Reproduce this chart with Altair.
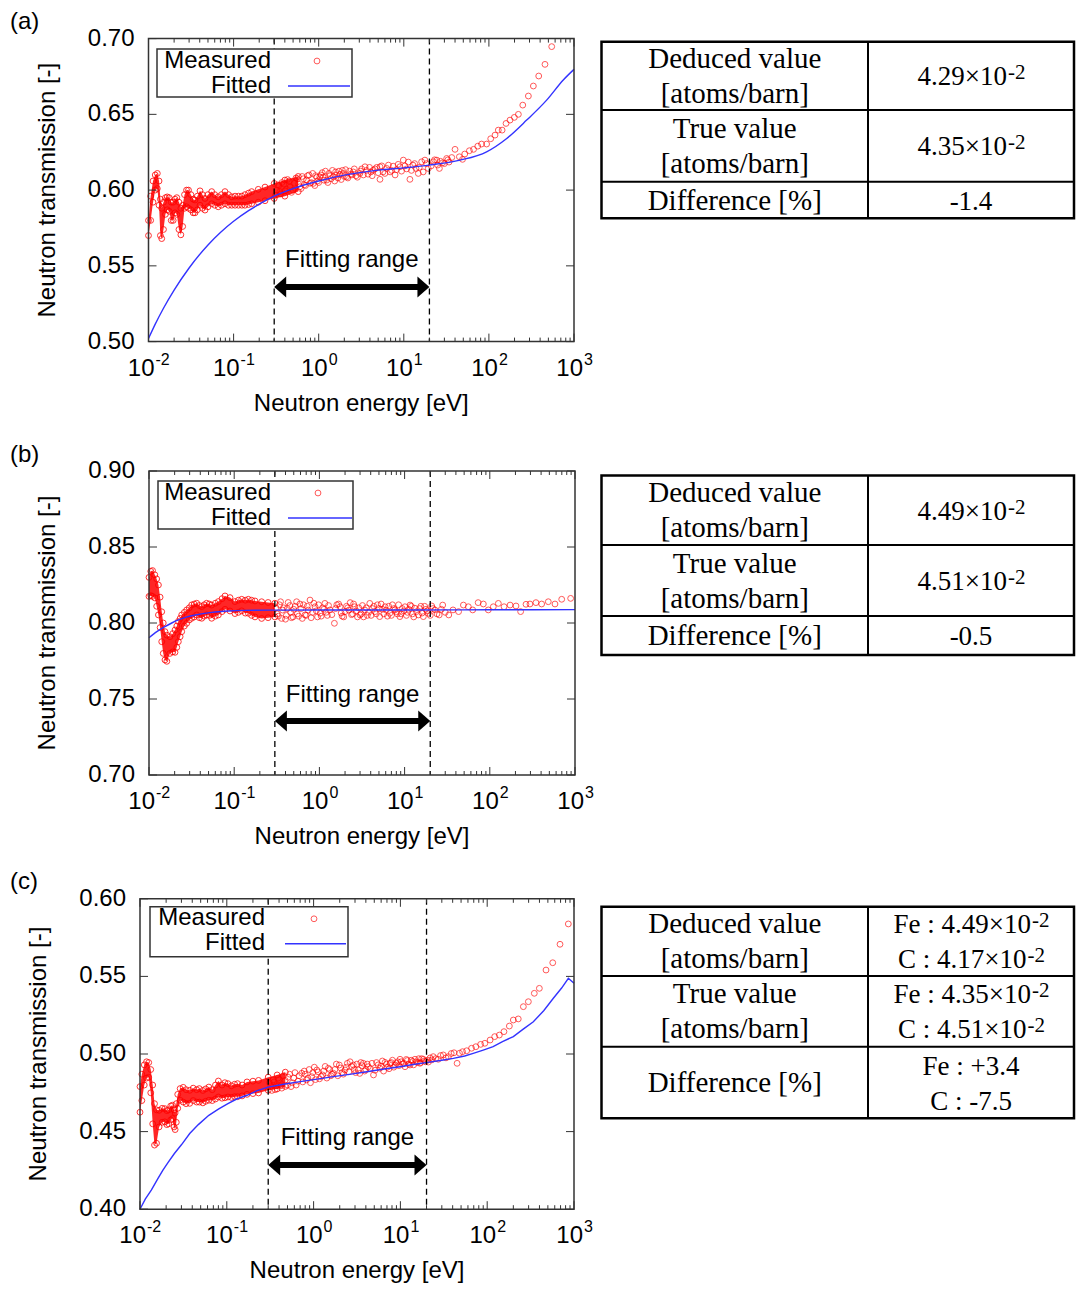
import altair as alt
import pandas as pd

# ====================== data ======================
# ---- panel (a) ----
a_band_E = [0.0100, 0.0106, 0.0113, 0.0120, 0.0127, 0.0133, 0.0138, 0.0143, 0.0150, 0.0158,
            0.0166, 0.0175, 0.0185, 0.0195, 0.0205, 0.0215, 0.0228, 0.0240, 0.0252, 0.0265,
            0.0280, 0.0295, 0.0315, 0.0335, 0.0352, 0.0375, 0.0403, 0.0430, 0.0461, 0.0500,
            0.0553, 0.0600, 0.0660, 0.0720, 0.0792, 0.0870, 0.0950, 0.104, 0.114, 0.125,
            0.136, 0.150, 0.163, 0.195, 0.234, 0.300, 0.400, 0.575]
a_band_hi = [0.580, 0.596, 0.606, 0.610, 0.611, 0.606, 0.594, 0.588, 0.592, 0.595,
             0.5955, 0.595, 0.592, 0.592, 0.594, 0.595, 0.592, 0.588, 0.590, 0.597,
             0.600, 0.600, 0.597, 0.594, 0.5935, 0.596, 0.5995, 0.597, 0.5945, 0.597,
             0.599, 0.597, 0.5956, 0.597, 0.599, 0.597, 0.5956, 0.596, 0.596, 0.596,
             0.597, 0.598, 0.599, 0.6005, 0.602, 0.6044, 0.6066, 0.609]
a_band_lo = [0.570, 0.580, 0.592, 0.600, 0.601, 0.590, 0.570, 0.568, 0.574, 0.584,
             0.587, 0.586, 0.580, 0.580, 0.585, 0.584, 0.574, 0.5705, 0.576, 0.588,
             0.589, 0.588, 0.587, 0.585, 0.585, 0.587, 0.590, 0.588, 0.5868, 0.589,
             0.591, 0.590, 0.589, 0.590, 0.591, 0.590, 0.590, 0.590, 0.590, 0.590,
             0.590, 0.5905, 0.591, 0.592, 0.593, 0.5945, 0.596, 0.599]
a_pts_E = [0.32, 0.34, 0.36, 0.39, 0.42, 0.45, 0.48, 0.52, 0.56, 0.60,
           0.64, 0.68, 0.72, 0.77, 0.82, 0.865, 0.92, 0.97, 1.03, 1.10,
           1.16, 1.24, 1.32, 1.40, 1.49, 1.58, 1.68, 1.78, 1.90, 2.00,
           2.13, 2.30, 2.45, 2.55, 2.75, 3.05, 3.20, 3.50, 3.80, 4.10,
           4.38, 4.80, 5.25, 5.25, 5.70, 6.30, 6.90, 7.50, 8.20, 9.00,
           9.87, 10.8, 11.8, 12.8, 13.9, 14.8, 16.2, 17.7, 19.4, 22.3,
           24.4, 26.2, 28.5, 31.9, 34.0, 36.6, 40.0, 45.0, 49.0, 52.0,
           59, 66, 74, 82, 94, 105, 118, 129, 143, 159,
           177, 199, 222, 250, 291, 333, 385, 456, 547]
a_pts_T = [0.6000, 0.6030, 0.5975, 0.6040, 0.6005, 0.6060, 0.5985, 0.6045, 0.6075, 0.6022,
           0.6090, 0.6035, 0.6066, 0.6100, 0.6050, 0.6044, 0.6095, 0.6060, 0.6088, 0.6115,
           0.6065, 0.6066, 0.6110, 0.6075, 0.6088, 0.6120, 0.6080, 0.6104, 0.6130, 0.6090,
           0.6088, 0.6125, 0.6100, 0.6120, 0.6095, 0.6110, 0.6140, 0.6154, 0.6105, 0.6120,
           0.6132, 0.6150, 0.6154, 0.6071, 0.6120, 0.6143, 0.6120, 0.6158, 0.6135, 0.6154,
           0.6198, 0.6140, 0.6071, 0.6165, 0.6143, 0.6110, 0.6187, 0.6198, 0.6143, 0.6187,
           0.6198, 0.6143, 0.6180, 0.6209, 0.6185, 0.6215, 0.6269, 0.6220, 0.6203, 0.6238,
           0.6260, 0.6269, 0.6290, 0.6304, 0.6304, 0.6339, 0.6363, 0.6396, 0.6396, 0.6440,
           0.6462, 0.6480, 0.6500, 0.6561, 0.6621, 0.6687, 0.6753, 0.6830, 0.6947]
a_pts2_E = [0.31, 0.33, 0.35, 0.37, 0.40, 0.43, 0.46, 0.50, 0.54, 0.58,
            0.62, 0.66, 0.70, 0.74, 0.79, 0.85, 0.90, 0.95, 1.00, 1.06,
            1.13, 1.20, 1.28, 1.36, 1.45, 1.54, 1.63, 1.73, 1.84, 1.95,
            2.07, 2.20, 2.38, 2.62, 2.85, 3.10, 3.35, 3.65, 3.95, 4.25,
            4.60, 5.00, 5.50, 6.00, 6.60, 7.20, 7.90, 8.60, 9.40, 10.3,
            11.3, 12.3, 13.4, 15.2, 16.9, 18.5, 21.0, 23.0, 25.0, 27.0,
            30.0, 33.0]
a_pts2_T = [0.5965, 0.6035, 0.5990, 0.6050, 0.5995, 0.6070, 0.6020, 0.6000, 0.6080, 0.6040,
            0.6010, 0.6075, 0.6030, 0.6095, 0.6045, 0.6110, 0.6030, 0.6085, 0.6050, 0.6100,
            0.6085, 0.6125, 0.6050, 0.6095, 0.6130, 0.6060, 0.6100, 0.6125, 0.6070, 0.6110,
            0.6135, 0.6080, 0.6105, 0.6140, 0.6085, 0.6125, 0.6100, 0.6130, 0.6150, 0.6095,
            0.6140, 0.6115, 0.6160, 0.6110, 0.6165, 0.6130, 0.6100, 0.6170, 0.6125, 0.6160,
            0.6185, 0.6130, 0.6175, 0.6150, 0.6120, 0.6175, 0.6160, 0.6200, 0.6165, 0.6190,
            0.6175, 0.6200]
a_fit_E = [0.01, 0.012, 0.015, 0.02, 0.03, 0.05, 0.07, 0.1, 0.15, 0.2, 0.3, 0.5,
           1, 2, 5, 10, 20, 46, 94, 162, 278, 477, 748, 1000]
a_fit_T = [0.502, 0.5115, 0.522, 0.534, 0.5486, 0.5638, 0.572, 0.5794, 0.5864, 0.5907, 0.596, 0.601,
           0.606, 0.6099, 0.6132, 0.6147, 0.6165, 0.6198, 0.6253, 0.6341, 0.6462, 0.6594, 0.6727, 0.6797]

# ---- panel (b) ----
b_band_E = [0.0100, 0.0105, 0.0110, 0.0117, 0.0123, 0.0129, 0.0135, 0.0141, 0.0147, 0.0154,
            0.0162, 0.0176, 0.0190, 0.0202, 0.0212, 0.0221, 0.0232, 0.0242, 0.0260, 0.0277,
            0.0297, 0.0317, 0.0340, 0.0363, 0.0390, 0.0416, 0.0445, 0.0475, 0.0510, 0.0544,
            0.0600, 0.0652, 0.0720, 0.0780, 0.0893, 0.102, 0.112, 0.1224, 0.135, 0.1466,
            0.160, 0.1754, 0.21, 0.25, 0.30]
b_band_hi = [0.830, 0.834, 0.8345, 0.8317, 0.829, 0.825, 0.817, 0.8074, 0.800, 0.7943,
             0.792, 0.791, 0.793, 0.7954, 0.798, 0.801, 0.803, 0.8053, 0.807, 0.8086,
             0.810, 0.8119, 0.8125, 0.813, 0.8115, 0.8108, 0.8120, 0.8130, 0.8125, 0.8118,
             0.8130, 0.8141, 0.8160, 0.8178, 0.8167, 0.8141, 0.8150, 0.8156, 0.8150, 0.8156,
             0.8150, 0.8145, 0.8140, 0.8135, 0.8130]
b_band_lo = [0.8175, 0.8180, 0.8175, 0.8165, 0.811, 0.8053, 0.797, 0.7877, 0.780, 0.7757,
             0.7748, 0.780, 0.781, 0.7807, 0.784, 0.7877, 0.791, 0.7943, 0.798, 0.7998,
             0.802, 0.8031, 0.804, 0.8053, 0.8035, 0.8031, 0.8045, 0.8053, 0.8050, 0.8031,
             0.8045, 0.8053, 0.8075, 0.8090, 0.8079, 0.8062, 0.8070, 0.8080, 0.8065, 0.8064,
             0.8050, 0.8040, 0.8030, 0.8035, 0.8040]
b_pts_E = [0.32, 0.34, 0.36, 0.38, 0.41, 0.43, 0.46, 0.49, 0.52, 0.55,
           0.59, 0.63, 0.678, 0.72, 0.776, 0.83, 0.89, 0.95, 1.02, 1.09,
           1.16, 1.24, 1.33, 1.50, 1.60, 1.75, 1.85, 2.00, 2.15, 2.30,
           2.45, 2.60, 2.80, 3.00, 3.20, 3.40, 3.65, 3.90, 4.20, 4.50,
           4.80, 5.10, 5.50, 5.90, 6.30, 6.70, 7.20, 7.70, 8.20, 8.80,
           9.40, 10.1, 10.8, 11.6, 12.4, 13.2, 14.5, 15.5, 16.6, 17.8,
           19.0, 20.8, 22.7, 25.5, 28.0, 33.0, 37.0, 43.0, 49.0, 56.0,
           63, 73, 84, 96, 110, 126, 147, 173, 203, 230,
           266, 296, 348, 406, 486, 582, 698, 889]
b_pts_T = [0.8060, 0.8120, 0.8030, 0.8100, 0.8050, 0.8135, 0.8070, 0.8040, 0.8110, 0.8060,
           0.8125, 0.8030, 0.8053, 0.8110, 0.8151, 0.8070, 0.8107, 0.8040, 0.8064, 0.8100,
           0.8129, 0.8050, 0.8086, 0.7998, 0.8120, 0.8107, 0.8045, 0.8075, 0.8100, 0.8134,
           0.8060, 0.8107, 0.8040, 0.8053, 0.8115, 0.8086, 0.8050, 0.8129, 0.8095, 0.8075,
           0.8120, 0.8042, 0.8090, 0.8107, 0.8045, 0.8064, 0.8120, 0.8086, 0.8060, 0.8042,
           0.8095, 0.8107, 0.8070, 0.8118, 0.8060, 0.8097, 0.8053, 0.8110, 0.8042, 0.8090,
           0.8064, 0.8112, 0.8086, 0.8053, 0.8118, 0.8053, 0.8086, 0.8075, 0.8118, 0.8107,
           0.8086, 0.8134, 0.8125, 0.8086, 0.8107, 0.8129, 0.8107, 0.8118, 0.8112, 0.8075,
           0.8123, 0.8125, 0.8134, 0.8125, 0.8140, 0.8125, 0.8156, 0.8162]
b_pts2_E = [0.31, 0.33, 0.35, 0.37, 0.40, 0.42, 0.45, 0.47, 0.50, 0.54,
            0.57, 0.61, 0.65, 0.70, 0.74, 0.80, 0.86, 0.92, 0.98, 1.05,
            1.13, 1.20, 1.28, 1.40, 1.55, 1.68, 1.80, 1.93, 2.08, 2.22,
            2.38, 2.52, 2.70, 2.90, 3.10, 3.30, 3.55, 3.78, 4.05, 4.35,
            4.65, 5.00, 5.30, 5.70, 6.10, 6.50, 7.00, 7.50, 8.00, 8.50,
            9.10, 9.80, 10.5, 11.2, 12.0, 12.8, 13.8, 15.0, 16.0, 17.2,
            18.4, 20.0, 21.5, 24.0, 27.0, 30.0]
b_pts2_T = [0.8100, 0.8045, 0.8140, 0.8085, 0.8025, 0.8095, 0.8115, 0.8035, 0.8090, 0.8140,
            0.8045, 0.8095, 0.8120, 0.8050, 0.8085, 0.8035, 0.8130, 0.8080, 0.8120, 0.8045,
            0.8090, 0.8070, 0.8115, 0.8055, 0.8095, 0.8125, 0.8065, 0.8040, 0.8110, 0.8085,
            0.8055, 0.8125, 0.8080, 0.8100, 0.8060, 0.8040, 0.8100, 0.8070, 0.8050, 0.8110,
            0.8060, 0.8095, 0.8125, 0.8060, 0.8085, 0.8110, 0.8050, 0.8095, 0.8075, 0.8120,
            0.8060, 0.8080, 0.8050, 0.8090, 0.8110, 0.8040, 0.8075, 0.8095, 0.8065, 0.8110,
            0.8080, 0.8050, 0.8095, 0.8060, 0.8090, 0.8070]
b_fit_E = [0.01, 0.0125, 0.0154, 0.0185, 0.0221, 0.028, 0.035, 0.0544, 0.085, 0.134, 0.3, 1, 10, 100, 1000]
b_fit_T = [0.7903, 0.7945, 0.7976, 0.800, 0.802, 0.804, 0.8053, 0.807, 0.8079, 0.8083,
           0.8085, 0.8086, 0.8086, 0.8087, 0.8088]

# ---- panel (c) ----
c_band_E = [0.0100, 0.0105, 0.0112, 0.0119, 0.0126, 0.0133, 0.0140, 0.0147, 0.0155, 0.0166,
            0.0180, 0.0193, 0.0204, 0.0214, 0.0226, 0.0237, 0.0247, 0.0254, 0.0262, 0.0272,
            0.0290, 0.0315, 0.0340, 0.0374, 0.0410, 0.0450, 0.0482, 0.0530, 0.0570, 0.0621,
            0.0680, 0.0740, 0.0800, 0.0880, 0.0950, 0.103, 0.113, 0.123, 0.133, 0.150,
            0.171, 0.200, 0.232, 0.300, 0.380, 0.472]
c_band_hi = [0.479, 0.487, 0.4930, 0.4950, 0.4945, 0.4900, 0.480, 0.468, 0.464, 0.4637,
             0.4650, 0.4648, 0.4635, 0.4640, 0.4665, 0.4670, 0.4640, 0.4620, 0.4680, 0.4740,
             0.4777, 0.4785, 0.4770, 0.4766, 0.4780, 0.4770, 0.4777, 0.4765, 0.4775, 0.4787,
             0.4770, 0.4800, 0.4826, 0.4800, 0.4815, 0.4809, 0.4795, 0.4805, 0.4809, 0.4800,
             0.4820, 0.4825, 0.4830, 0.4851, 0.4865, 0.4883]
c_band_lo = [0.4625, 0.470, 0.480, 0.4845, 0.4850, 0.475, 0.455, 0.4413, 0.4425, 0.453,
             0.4560, 0.4563, 0.4545, 0.4550, 0.4575, 0.4584, 0.4530, 0.4513, 0.4560, 0.4650,
             0.4702, 0.4690, 0.4680, 0.4682, 0.4700, 0.4690, 0.4690, 0.4685, 0.4695, 0.4702,
             0.4700, 0.4710, 0.4723, 0.4715, 0.4718, 0.4723, 0.4720, 0.4725, 0.4725, 0.4730,
             0.4740, 0.4745, 0.4749, 0.4766, 0.4775, 0.4791]
c_pts_E = [0.32, 0.34, 0.36, 0.39, 0.42, 0.45, 0.50, 0.53, 0.57, 0.61,
           0.66, 0.73, 0.78, 0.83, 0.89, 0.95, 1.02, 1.09, 1.17, 1.27,
           1.36, 1.48, 1.58, 1.69, 1.83, 1.98, 2.13, 2.30, 2.45, 2.63,
           2.87, 3.05, 3.27, 3.50, 3.74, 4.00, 4.27, 4.90, 5.30, 5.80,
           6.20, 6.65, 7.10, 7.60, 8.10, 8.70, 9.30, 9.90, 10.6, 11.3,
           12.0, 12.9, 13.8, 14.7, 15.7, 16.8, 17.6, 18.4, 19.5, 20.6,
           22.0, 23.9, 25.5, 27.3, 29.0, 31.2, 33.5, 35.7, 38.5, 41.5,
           45, 48, 52, 58, 66, 74, 84, 94, 108, 122,
           138, 156, 180, 200, 228, 261, 298, 349, 399, 476,
           569, 690, 860]
c_pts_T = [0.4790, 0.4832, 0.4770, 0.4845, 0.4795, 0.4860, 0.4800, 0.4870, 0.4815, 0.4880,
           0.4825, 0.4876, 0.4890, 0.4833, 0.4900, 0.4854, 0.4915, 0.4897, 0.4840, 0.4865,
           0.4920, 0.4908, 0.4860, 0.4876, 0.4935, 0.4929, 0.4880, 0.4897, 0.4940, 0.4950,
           0.4929, 0.4880, 0.4897, 0.4945, 0.4940, 0.4900, 0.4918, 0.4865, 0.4945, 0.4908,
           0.4955, 0.4946, 0.4915, 0.4940, 0.4960, 0.4929, 0.4950, 0.4966, 0.4935, 0.4918,
           0.4958, 0.4929, 0.4952, 0.4966, 0.4945, 0.4940, 0.4970, 0.4966, 0.4950, 0.4961,
           0.4975, 0.4983, 0.4970, 0.4966, 0.4990, 0.4994, 0.4975, 0.4983, 0.5003, 0.5008,
           0.4940, 0.5005, 0.5015, 0.5021, 0.5037, 0.5047, 0.5062, 0.5069, 0.5090, 0.5112,
           0.5122, 0.5144, 0.5180, 0.5219, 0.5226, 0.5305, 0.5337, 0.5391, 0.5423, 0.5541,
           0.5588, 0.5707, 0.5838]
c_pts2_E = [0.31, 0.33, 0.35, 0.37, 0.40, 0.43, 0.47, 0.51, 0.55, 0.59,
            0.63, 0.68, 0.75, 0.80, 0.86, 0.92, 0.98, 1.05, 1.13, 1.22,
            1.31, 1.42, 1.53, 1.63, 1.76, 1.90, 2.05, 2.20, 2.38, 2.55,
            2.75, 2.95, 3.15, 3.40, 3.62, 3.87, 4.15, 4.50, 4.70, 5.10,
            5.55, 6.00, 6.40, 6.90, 7.40, 7.85, 8.40, 9.00, 9.60, 10.2,
            11.0, 11.7, 12.5, 13.3, 14.2, 15.2, 16.3, 17.1, 18.9, 21.0,
            23.0]
c_pts2_T = [0.4815, 0.4765, 0.4820, 0.4795, 0.4835, 0.4780, 0.4830, 0.4850, 0.4790, 0.4845,
            0.4800, 0.4860, 0.4820, 0.4870, 0.4845, 0.4815, 0.4880, 0.4835, 0.4885, 0.4855,
            0.4890, 0.4845, 0.4900, 0.4870, 0.4900, 0.4860, 0.4910, 0.4870, 0.4915, 0.4885,
            0.4920, 0.4900, 0.4935, 0.4875, 0.4925, 0.4890, 0.4935, 0.4905, 0.4940, 0.4895,
            0.4930, 0.4920, 0.4890, 0.4935, 0.4905, 0.4945, 0.4915, 0.4940, 0.4925, 0.4950,
            0.4940, 0.4965, 0.4935, 0.4960, 0.4930, 0.4950, 0.4970, 0.4945, 0.4955, 0.4948,
            0.4962]
c_fit_E = [0.01, 0.0115, 0.01355, 0.016, 0.01837, 0.021, 0.0249, 0.03, 0.0374, 0.047,
           0.0621, 0.08, 0.103, 0.13, 0.171, 0.22, 0.30, 0.45, 0.70, 1.1,
           1.69, 2.7, 4.1, 6.5, 9.9, 14, 20.6, 30, 40.7, 55,
           69, 90, 117, 150, 200, 260, 340, 450, 578, 720,
           861, 1000]
c_fit_T = [0.400, 0.4065, 0.4124, 0.4195, 0.4252, 0.4300, 0.4359, 0.4415, 0.4488, 0.4545,
           0.4605, 0.4645, 0.468, 0.4710, 0.4734, 0.4762, 0.4787, 0.4805, 0.4822, 0.4838,
           0.4854, 0.4870, 0.4886, 0.4903, 0.4918, 0.4932, 0.4946, 0.4960, 0.4972, 0.4987,
           0.5004, 0.5025, 0.5047, 0.5080, 0.5112, 0.5160, 0.5208, 0.5280, 0.5359, 0.5425,
           0.5488, 0.5456]

# ---- texts, ticks, annotations ----
panel_labels = ["(a)", "(b)", "(c)"]
x_title = "Neutron energy [eV]"
y_title = "Neutron transmission [-]"
legend_labels = ["Measured", "Fitted"]
range_label = "Fitting range"
fit_range = [0.3, 20]
range_mid_E = 2.45
arrow_T = [0.536, 0.7355, 0.4285]
range_text_T = [0.5538, 0.7526, 0.446]
decades = [0.01, 0.1, 1, 10, 100, 1000]
decade_exps = ["-2", "-1", "0", "1", "2", "3"]
minor_mult = [2, 3, 4, 5, 6, 7, 8, 9]
a_yticks = [0.50, 0.55, 0.60, 0.65, 0.70]
b_yticks = [0.70, 0.75, 0.80, 0.85, 0.90]
c_yticks = [0.40, 0.45, 0.50, 0.55, 0.60]

table_left = [["Deduced value", "[atoms/barn]"], ["True value", "[atoms/barn]"], ["Difference [%]"]]
X_ = "\u00d710"
table_right_a = [[("4.29" + X_, "-2")], [("4.35" + X_, "-2")], [("-1.4", "")]]
table_right_b = [[("4.49" + X_, "-2")], [("4.51" + X_, "-2")], [("-0.5", "")]]
table_right_c = [[("Fe : 4.49" + X_, "-2"), ("C : 4.17" + X_, "-2")],
                 [("Fe : 4.35" + X_, "-2"), ("C : 4.51" + X_, "-2")],
                 [("Fe : +3.4", ""), ("C : -7.5", "")]]

# ====================== layout & style ======================
SANS = "Liberation Sans"
SERIF = "Liberation Serif"
RED = "#ff0000"
BLUE = "#3333ff"
AX = "#333333"
FS = 24
PT = 34

LAYOUT = [
    dict(x0=140.5, x1=566, yt=30.6, yb=333.6, lab_y=14,
         leg=dict(l=8.5, r=203.5, t=10.4, b=58.4, tr=122.5, sym=168.5, ll=139.5, lr=201.5),
         tab=[33.7, 102, 173.7, 210.3]),
    dict(x0=141, x1=567, yt=463, yb=767, lab_y=447,
         leg=dict(l=9, r=204, t=10, b=58, tr=122, sym=169, ll=139, lr=203),
         tab=[467.5, 537, 608, 647]),
    dict(x0=132, x1=566, yt=890.8, yb=1201.2, lab_y=874,
         leg=dict(l=10, r=208, t=8, b=58, tr=125, sym=174, ll=145, lr=206),
         tab=[898.7, 968, 1038.7, 1110.3]),
]
TAB_L, TAB_D, TAB_R = 593.5, 860, 1066
LBL_FS, VAL_FS, SUP_FS = 29, 27, 21
TW = {".": 0.25, "\u00d7": 0.564, " ": 0.25, ":": 0.278, "F": 0.556, "e": 0.444,
      "C": 0.667, "+": 0.564, "-": 0.333}


def tw(s, size):
    return sum(TW.get(ch, 0.5) for ch in s) * size


def one():
    return alt.Chart(pd.DataFrame({"k": [0]}))


LEFT_HEAD = "M0,0 L1.6,-1.4 L1.6,1.4 Z"
RIGHT_HEAD = "M0,0 L-1.6,-1.4 L-1.6,1.4 Z"


def panel(i, band, pts, fit, yticks, interp):
    L = LAYOUT[i]
    x0, x1, yt, yb = L["x0"], L["x1"], L["yt"], L["yb"]
    xsc = alt.Scale(type="log", domain=[0.01, 1000], range=[x0, x1], nice=False)
    ysc = alt.Scale(domain=[yticks[0], yticks[-1]], range=[yb, yt], nice=False, zero=False)

    def X(f):
        return alt.X(f + ":Q", scale=xsc, axis=None)

    def Y(f):
        return alt.Y(f + ":Q", scale=ysc, axis=None)

    lay = []
    bdf = pd.DataFrame({"E": band[0], "hi": band[1], "lo": band[2]})
    lay.append(alt.Chart(bdf).mark_area(color=RED, opacity=0.85).encode(
        x=X("E"), y=Y("hi"), y2=alt.Y2("lo")))
    edf = pd.DataFrame({"E": list(band[0]) * 2, "T": list(band[1]) + list(band[2])})
    lay.append(alt.Chart(edf).mark_point(shape="circle", filled=False, color=RED, size=PT,
                                         strokeWidth=1, opacity=0.8).encode(x=X("E"), y=Y("T")))
    pdf = pd.DataFrame({"E": pts[0], "T": pts[1]})
    lay.append(alt.Chart(pdf).mark_point(shape="circle", filled=False, color=RED, size=PT,
                                         strokeWidth=1, opacity=0.65).encode(x=X("E"), y=Y("T")))
    fdf = pd.DataFrame({"E": fit[0], "T": fit[1]})
    lay.append(alt.Chart(fdf).mark_line(color=BLUE, strokeWidth=1.4, interpolate=interp).encode(
        x=X("E"), y=Y("T")))
    # fitting range dashed lines
    lay.append(alt.Chart(pd.DataFrame({"E": fit_range})).mark_rule(
        color="black", strokeDash=[6, 4], strokeWidth=1.3).encode(
        x=X("E"), y=alt.value(yt), y2=alt.value(yb)))
    # double arrow
    adf = pd.DataFrame({"E0": [fit_range[0]], "E1": [fit_range[1]], "T": [arrow_T[i]]})
    lay.append(alt.Chart(adf).mark_rule(color="black", strokeWidth=6, xOffset=9, x2Offset=-9).encode(
        x=X("E0"), x2=alt.X2("E1"), y=Y("T")))
    lay.append(alt.Chart(pd.DataFrame({"E": [fit_range[0]], "T": [arrow_T[i]]})).mark_point(
        shape=LEFT_HEAD, size=225, filled=True, color="black", opacity=1, strokeWidth=0).encode(
        x=X("E"), y=Y("T")))
    lay.append(alt.Chart(pd.DataFrame({"E": [fit_range[1]], "T": [arrow_T[i]]})).mark_point(
        shape=RIGHT_HEAD, size=225, filled=True, color="black", opacity=1, strokeWidth=0).encode(
        x=X("E"), y=Y("T")))
    lay.append(alt.Chart(pd.DataFrame({"E": [range_mid_E], "T": [range_text_T[i]], "t": [range_label]})).mark_text(
        font=SANS, fontSize=FS, align="center", baseline="middle", color="black").encode(
        x=X("E"), y=Y("T"), text="t:N"))
    # legend
    g = L["leg"]
    lay.append(one().mark_rect(fill="white", stroke=AX, strokeWidth=1.5).encode(
        x=alt.value(x0 + g["l"]), x2=alt.value(x0 + g["r"]),
        y=alt.value(yt + g["t"]), y2=alt.value(yt + g["b"])))
    for k, lab in enumerate(legend_labels):
        lay.append(one().mark_text(text=lab, font=SANS, fontSize=FS, align="right",
                                   baseline="middle", color="black").encode(
            x=alt.value(x0 + g["tr"]), y=alt.value(yt + g["t"] + 11.5 + 25 * k)))
    lay.append(one().mark_point(shape="circle", filled=False, color=RED, size=PT,
                                strokeWidth=1, opacity=0.65).encode(
        x=alt.value(x0 + g["sym"]), y=alt.value(yt + g["t"] + 12)))
    lay.append(one().mark_rule(color=BLUE, strokeWidth=1.4).encode(
        x=alt.value(x0 + g["ll"]), x2=alt.value(x0 + g["lr"]), y=alt.value(yt + g["t"] + 37)))
    # frame
    lay.append(alt.Chart(pd.DataFrame({"E0": [0.01], "E1": [1000], "T0": [yticks[0]], "T1": [yticks[-1]]}))
               .mark_rect(filled=False, color=AX, strokeWidth=1.5).encode(
        x=X("E0"), x2=alt.X2("E1"), y=Y("T0"), y2=alt.Y2("T1")))
    # x ticks (inward, mirrored)
    maj = pd.DataFrame({"E": decades})
    mnr = pd.DataFrame({"E": [m * d for d in decades[:-1] for m in minor_mult]})
    for df, ln in ((maj, 8), (mnr, 4)):
        lay.append(alt.Chart(df).mark_rule(color=AX, strokeWidth=1).encode(
            x=X("E"), y=alt.value(yb), y2=alt.value(yb - ln)))
        lay.append(alt.Chart(df).mark_rule(color=AX, strokeWidth=1).encode(
            x=X("E"), y=alt.value(yt), y2=alt.value(yt + ln)))
    # y ticks
    ydf = pd.DataFrame({"T": yticks, "lab": ["%.2f" % v for v in yticks]})
    lay.append(alt.Chart(ydf).mark_rule(color=AX, strokeWidth=1).encode(
        x=alt.value(x0), x2=alt.value(x0 + 8), y=Y("T")))
    lay.append(alt.Chart(ydf).mark_rule(color=AX, strokeWidth=1).encode(
        x=alt.value(x1), x2=alt.value(x1 - 8), y=Y("T")))
    lay.append(alt.Chart(ydf).mark_text(font=SANS, fontSize=FS, align="right", baseline="middle",
                                        color="black").encode(
        x=alt.value(x0 - 14), y=Y("T"), text="lab:N"))
    # x tick labels 10^n
    xl = pd.DataFrame({"E": decades, "base": ["10"] * len(decades), "exp": decade_exps})
    neg = xl[xl["exp"].str.startswith("-")]
    pos = xl[~xl["exp"].str.startswith("-")]
    for df, d in ((neg, 6), (pos, 9)):
        lay.append(alt.Chart(df).mark_text(font=SANS, fontSize=FS, align="right", baseline="middle",
                                           dx=d, color="black").encode(
            x=X("E"), y=alt.value(yb + 27), text="base:N"))
        lay.append(alt.Chart(df).mark_text(font=SANS, fontSize=16, align="left", baseline="middle",
                                           dx=d + 1, color="black").encode(
            x=X("E"), y=alt.value(yb + 18), text="exp:N"))
    # titles
    lay.append(one().mark_text(text=x_title, font=SANS, fontSize=FS, align="center",
                               baseline="middle", color="black").encode(
        x=alt.value((x0 + x1) / 2), y=alt.value(yb + 62)))
    lay.append(one().mark_text(text=y_title, font=SANS, fontSize=FS, align="center",
                               baseline="middle", angle=270, color="black").encode(
        x=alt.value(x0 - 101), y=alt.value((yt + yb) / 2)))
    lay.append(one().mark_text(text=panel_labels[i], font=SANS, fontSize=FS, align="left",
                               baseline="middle", color="black").encode(
        x=alt.value(2), y=alt.value(L["lab_y"])))
    return lay


def table(i, right_cells):
    rows = LAYOUT[i]["tab"]
    top, bot = rows[0], rows[-1]
    lay = []
    lay.append(one().mark_rect(filled=False, color="black", strokeWidth=2.5).encode(
        x=alt.value(TAB_L), x2=alt.value(TAB_R), y=alt.value(top), y2=alt.value(bot)))
    lay.append(alt.Chart(pd.DataFrame({"y": rows[1:-1]})).mark_rule(color="black", strokeWidth=2).encode(
        x=alt.value(TAB_L), x2=alt.value(TAB_R), y=alt.Y("y:Q", scale=None, axis=None)))
    lay.append(one().mark_rule(color="black", strokeWidth=2).encode(
        x=alt.value(TAB_D), y=alt.value(top), y2=alt.value(bot)))
    lx = (TAB_L + TAB_D) / 2
    rx = (TAB_D + TAB_R) / 2
    left, main, sup, plain = [], [], [], []
    for r in range(3):
        c = (rows[r] + rows[r + 1]) / 2

        def bl(n):
            return [c + 9.5] if n == 1 else [c - 8, c + 27]
        for txt, by in zip(table_left[r], bl(len(table_left[r]))):
            left.append({"px": lx, "py": by, "t": txt})
        cells = right_cells[r]
        for (m, s), by in zip(cells, bl(len(cells))):
            if s:
                xr = rx + (tw(m, VAL_FS) - tw(s, SUP_FS)) / 2
                main.append({"px": xr, "py": by, "t": m})
                sup.append({"px": xr + 1, "py": by - 6, "t": s})
            else:
                plain.append({"px": rx, "py": by, "t": m})
    for rows_, fs, al in ((left, LBL_FS, "center"), (main, VAL_FS, "right"),
                          (sup, SUP_FS, "left"), (plain, VAL_FS, "center")):
        if not rows_:
            continue
        lay.append(alt.Chart(pd.DataFrame(rows_)).mark_text(
            font=SERIF, fontSize=fs, align=al, baseline="alphabetic", color="black").encode(
            x=alt.X("px:Q", scale=None, axis=None), y=alt.Y("py:Q", scale=None, axis=None),
            text="t:N"))
    return lay


layers = []
layers += panel(0, (a_band_E, a_band_hi, a_band_lo), (a_pts_E + a_pts2_E, a_pts_T + a_pts2_T),
                (a_fit_E, a_fit_T), a_yticks, "monotone")
layers += panel(1, (b_band_E, b_band_hi, b_band_lo), (b_pts_E + b_pts2_E, b_pts_T + b_pts2_T),
                (b_fit_E, b_fit_T), b_yticks, "monotone")
layers += panel(2, (c_band_E, c_band_hi, c_band_lo), (c_pts_E + c_pts2_E, c_pts_T + c_pts2_T),
                (c_fit_E, c_fit_T), c_yticks, "linear")
layers += table(0, table_right_a)
layers += table(1, table_right_b)
layers += table(2, table_right_c)

chart = alt.layer(*layers).resolve_scale(x="independent", y="independent").properties(
    width=1068, height=1270, padding={"left": 0, "top": 0, "right": 0, "bottom": 0}
).configure_view(stroke="transparent")

chart.save("out.html", embed_options={"renderer": "svg", "actions": False})
